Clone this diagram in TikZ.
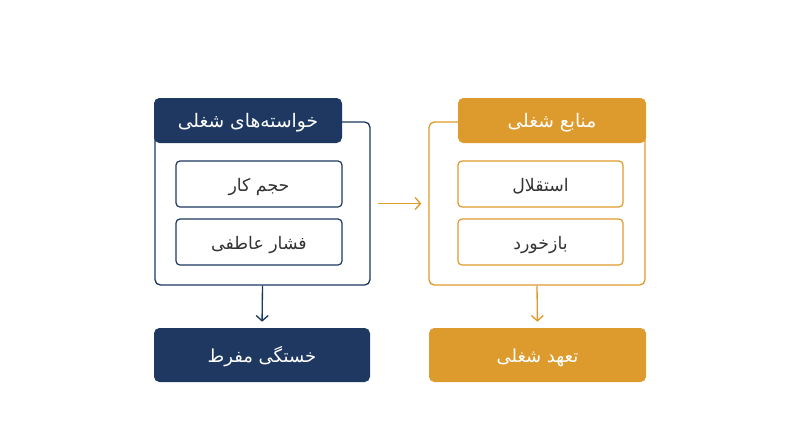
\documentclass[tikz,border=0pt]{standalone}
\usepackage{fontspec}
\usetikzlibrary{arrows.meta}
\TeXXeTstate=1
\newfontfamily\arabicfont[Script=Arabic]{DejaVu Sans}
\newcommand{\artext}[1]{\beginR #1\endR}
\definecolor{navy}{HTML}{1E3861}
\definecolor{gold}{HTML}{DE9B2D}
\definecolor{txt}{HTML}{333333}
\tikzset{
  lbl/.style={inner sep=0pt, text height=1.05em, text depth=0pt},
  frame/.style={draw, line width=1pt, rounded corners=4pt, inner sep=0pt},
  head/.style={lbl, rounded corners=4pt, text=white, font=\arabicfont\fontsize{14}{16}\selectfont},
  item/.style={lbl, draw, line width=0.9pt, fill=white, rounded corners=3pt, text=txt, font=\arabicfont\fontsize{13}{15}\selectfont},
  result/.style={lbl, rounded corners=4pt, text=white, font=\arabicfont\fontsize{13.5}{15}\selectfont},
  conn/.style={line width=1pt, -{Straight Barb[length=4pt,width=9pt,line width=1pt]}}
}
\begin{document}
\begin{tikzpicture}[x=0.75pt,y=-0.75pt]
\useasboundingbox[fill=white] (0,0) rectangle (800,447);
% left column
\node[frame, draw=navy, minimum width=161.25pt, minimum height=122.25pt] (lframe) at (262.5,203.5) {};
\node[head, fill=navy, minimum width=141pt, minimum height=33.75pt] (lhead) at (248,120.5) {\artext{خواسته‌های شغلی}};
\node[item, draw=navy, minimum width=124.5pt, minimum height=34.5pt] (l1) at (259,184) {\artext{حجم کار}};
\node[item, draw=navy, minimum width=124.5pt, minimum height=34.5pt] (l2) at (259,242) {\artext{فشار عاطفی}};
\node[result, fill=navy, minimum width=162pt, minimum height=40.5pt] (lres) at (262,355) {\artext{خستگی مفرط}};
% right column
\node[frame, draw=gold, minimum width=162pt, minimum height=122.25pt] (rframe) at (537,203.5) {};
\node[head, fill=gold, minimum width=141pt, minimum height=33.75pt] (rhead) at (552,120.5) {\artext{منابع شغلی}};
\node[item, draw=gold, minimum width=123.75pt, minimum height=34.5pt] (r1) at (540.5,184) {\artext{استقلال}};
\node[item, draw=gold, minimum width=123.75pt, minimum height=34.5pt] (r2) at (540.5,242) {\artext{بازخورد}};
\node[result, fill=gold, minimum width=162.75pt, minimum height=40.5pt] (rres) at (537.5,355) {\artext{تعهد شغلی}};
% connectors
\draw[conn, navy, shorten >=4.5pt] (lframe.south) -- (lres.north);
\draw[conn, gold, shorten >=4.5pt] (rframe.south) -- (rres.north);
\draw[conn, gold, shorten <=5.25pt, shorten >=5.25pt] (lframe.east) -- (rframe.west);
\end{tikzpicture}
\end{document}
